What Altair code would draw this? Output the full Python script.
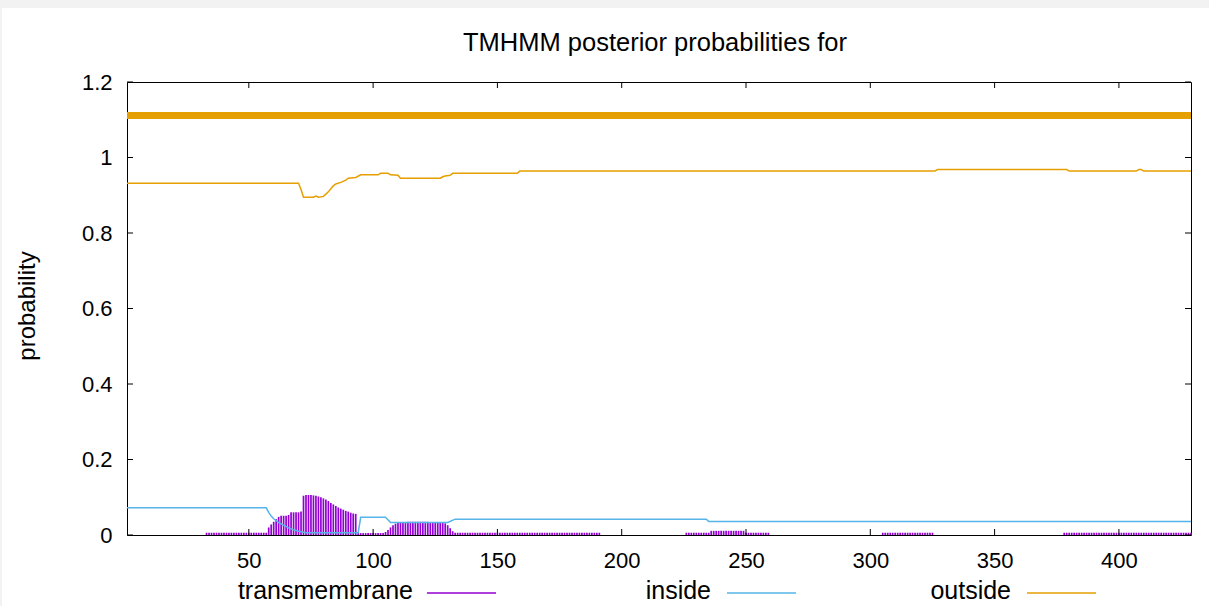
import altair as alt
import pandas as pd

# ---------------- data ----------------
# outside posterior probability (residue, probability) breakpoints
outside_pos = [1, 70, 71, 72, 76, 77, 78, 80, 81, 82, 83, 84, 85, 87, 89, 90, 93, 95,
               102, 103, 106, 107, 110, 111, 127, 128, 129, 131, 132, 158, 159,
               326, 327, 379, 380, 407, 408, 409, 410, 429]
outside_val = [0.932, 0.932, 0.915, 0.895, 0.895, 0.898, 0.895, 0.897, 0.903, 0.909,
               0.917, 0.925, 0.930, 0.934, 0.940, 0.945, 0.947, 0.954,
               0.954, 0.958, 0.958, 0.954, 0.953, 0.945, 0.945, 0.949, 0.951, 0.953,
               0.958, 0.958, 0.964, 0.964, 0.968, 0.968, 0.964, 0.964, 0.968, 0.968,
               0.964, 0.964]

# inside posterior probability breakpoints
inside_pos = [1, 57, 58, 59, 60, 61, 62, 64, 66, 68, 70, 73, 94, 95, 105, 107, 130,
              133, 234, 235, 429]
inside_val = [0.072, 0.072, 0.060, 0.050, 0.043, 0.038, 0.033, 0.026, 0.019, 0.014,
              0.010, 0.006, 0.006, 0.047, 0.047, 0.033, 0.033, 0.042, 0.042, 0.036,
              0.036]

# transmembrane posterior probability, per residue (peaks)
tm_peak1_start = 58
tm_peak1 = [0.020, 0.028, 0.035, 0.042, 0.048, 0.051, 0.051, 0.051, 0.053, 0.060,
            0.060, 0.060, 0.060, 0.062, 0.104, 0.106, 0.106, 0.106, 0.105, 0.104,
            0.102, 0.100, 0.097, 0.094, 0.090, 0.085, 0.081, 0.077, 0.073, 0.070,
            0.067, 0.064, 0.062, 0.059, 0.057, 0.056]
tm_peak2_start = 105
tm_peak2 = [0.008, 0.013, 0.020, 0.026, 0.030, 0.032, 0.033, 0.034, 0.034, 0.035,
            0.035, 0.035, 0.035, 0.035, 0.035, 0.035, 0.035, 0.035, 0.034, 0.034,
            0.034, 0.033, 0.033, 0.033, 0.031, 0.026, 0.018, 0.010]
# low transmembrane runs: (first residue, last residue, probability)
tm_low_runs = [(33, 57, 0.006), (94, 104, 0.005), (133, 191, 0.006),
               (226, 235, 0.006), (236, 249, 0.011), (250, 259, 0.006),
               (305, 325, 0.006), (378, 429, 0.006)]

# predicted topology bar (outside along the whole sequence)
topo_pos = [1, 429]
topo_val = [1.111, 1.111]

x_ticks = [50, 100, 150, 200, 250, 300, 350, 400]
y_ticks = [0, 0.2, 0.4, 0.6, 0.8, 1.0, 1.2]

legend_labels = ["transmembrane", "inside", "outside"]
PURPLE, BLUE, ORANGE = "#9400d3", "#56b4e9", "#e69f00"
FONT = "Liberation Sans"

# ---------------- tables ----------------
tm_pos, tm_val = [], []
for i, v in enumerate(tm_peak1):
    tm_pos.append(tm_peak1_start + i); tm_val.append(v)
for i, v in enumerate(tm_peak2):
    tm_pos.append(tm_peak2_start + i); tm_val.append(v)
for a, b, v in tm_low_runs:
    for p in range(a, b + 1):
        tm_pos.append(p); tm_val.append(v)
tm_df = pd.DataFrame({"pos": tm_pos, "p": tm_val})
out_df = pd.DataFrame({"pos": outside_pos, "p": outside_val})
in_df = pd.DataFrame({"pos": inside_pos, "p": inside_val})
topo_df = pd.DataFrame({"pos": topo_pos, "p": topo_val})
xt_df = pd.DataFrame({"pos": x_ticks})
yt_df = pd.DataFrame({"p": y_ticks})

W, H = 1064, 453
xs = alt.Scale(domain=[1, 429], nice=False, zero=False)
ys = alt.Scale(domain=[0, 1.2], nice=False)

x_axis = alt.Axis(values=x_ticks, format="d", title=None, labelFontSize=22,
                  labelFont=FONT, labelColor="black", ticks=False, domain=False,
                  grid=False, labelPadding=15)
y_axis = alt.Axis(values=y_ticks, format="~g", title=None, labelFontSize=22,
                  labelFont=FONT, labelColor="black", ticks=False, domain=False,
                  grid=False, labelPadding=15)
X = alt.X("pos:Q", scale=xs, axis=x_axis)
Y = alt.Y("p:Q", scale=ys, axis=y_axis)

tm = alt.Chart(tm_df).mark_rule(color=PURPLE, strokeWidth=1.7).encode(
    x=X, y=Y, y2=alt.value(H))
inside = alt.Chart(in_df).mark_line(color=BLUE, strokeWidth=1.5).encode(x=X, y=Y)
outside = alt.Chart(out_df).mark_line(color=ORANGE, strokeWidth=1.5).encode(x=X, y=Y)
topo = alt.Chart(topo_df).mark_line(color=ORANGE, strokeWidth=7).encode(x=X, y=Y)

tick_b = alt.Chart(xt_df).mark_rule(color="black").encode(x=X, y=alt.value(H), y2=alt.value(H - 6))
tick_t = alt.Chart(xt_df).mark_rule(color="black").encode(x=X, y=alt.value(0), y2=alt.value(6))
tick_l = alt.Chart(yt_df).mark_rule(color="black").encode(y=Y, x=alt.value(0), x2=alt.value(6))
tick_r = alt.Chart(yt_df).mark_rule(color="black").encode(y=Y, x=alt.value(W), x2=alt.value(W - 6))

one = pd.DataFrame({"k": [0]})
title = alt.Chart(one).mark_text(text="TMHMM posterior probabilities for", fontSize=25.5,
                                 font=FONT, align="center", baseline="alphabetic",
                                 color="black").encode(x=alt.value(528), y=alt.value(-31))
ytitle = alt.Chart(one).mark_text(text="probability", fontSize=24, font=FONT, angle=270,
                                  align="center", baseline="middle", color="black").encode(
    x=alt.value(-99), y=alt.value(224))
strip = alt.Chart(one).mark_rect(color="#f2f2f2").encode(
    x=alt.value(-127), x2=alt.value(W + 18), y=alt.value(-82), y2=alt.value(-74))
lstrip = alt.Chart(one).mark_rect(color="#f2f2f2").encode(
    x=alt.value(-127), x2=alt.value(-125), y=alt.value(-82), y2=alt.value(H + 71))

legend_layers = []
text_right = [286, 584, 884]
line_start = [300, 600, 900]
colors = [PURPLE, BLUE, ORANGE]
for lab, tr, ls, c in zip(legend_labels, text_right, line_start, colors):
    legend_layers.append(alt.Chart(one).mark_text(text=lab, fontSize=25, font=FONT,
                                                  align="right", baseline="alphabetic",
                                                  color="black").encode(
        x=alt.value(tr), y=alt.value(517)))
    legend_layers.append(alt.Chart(one).mark_rule(color=c, strokeWidth=1.5).encode(
        x=alt.value(ls), x2=alt.value(ls + 69), y=alt.value(511)))

chart = alt.layer(tm, inside, outside, topo, tick_b, tick_t, tick_l, tick_r,
                  strip, lstrip, title, ytitle, *legend_layers).properties(
    width=W, height=H,
    autosize=alt.AutoSizeParams(type="none"),
    padding={"left": 127, "top": 82, "right": 18, "bottom": 71},
    background="white",
).configure_view(stroke="black", strokeWidth=1)

chart.save("out.html", embed_options={"renderer": "svg", "actions": False})
